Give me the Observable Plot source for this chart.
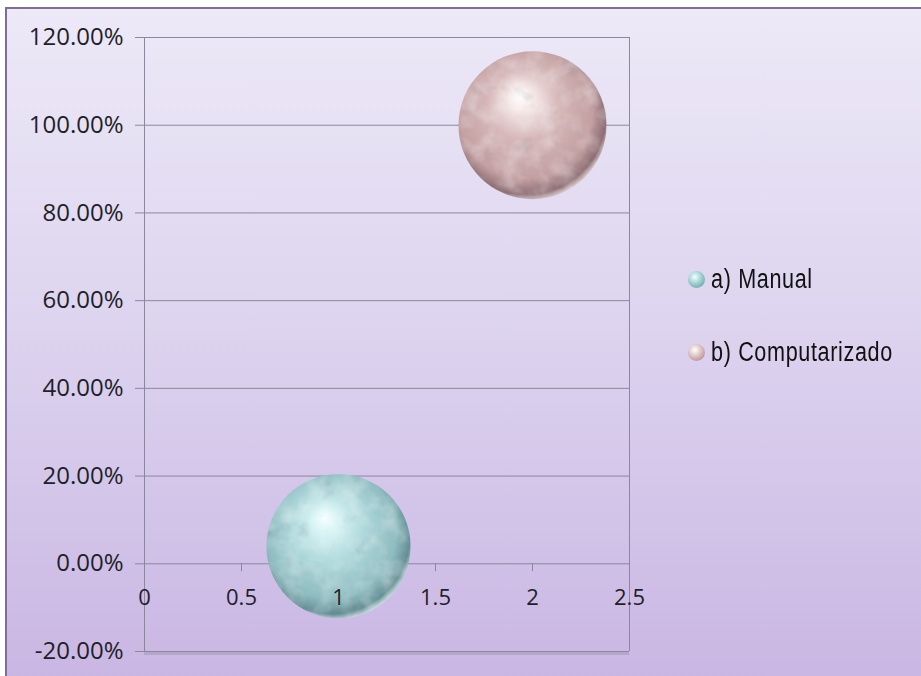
<!DOCTYPE html>
<html>
<head>
<meta charset="utf-8">
<script src="https://cdn.jsdelivr.net/npm/d3@7"></script>
<script src="https://cdn.jsdelivr.net/npm/@observablehq/plot@0.6"></script>
<style>
  html, body { margin: 0; padding: 0; background: #ffffff; }
  #wrap { position: relative; width: 921px; height: 676px; overflow: hidden; background: #ffffff; }
  #bg { position: absolute; left: 5px; top: 7px; width: 940px; height: 700px;
        border: 2px solid #7e6c9c; box-sizing: border-box;
        background: linear-gradient(to bottom, #ede9f7 0%, #ddd4ef 45%, #c8b4e2 100%); }
  #chart { position: absolute; left: 0; top: 0; }
  #legend { position: absolute; left: 688px; top: 0; font-family: "Liberation Sans", Arial, sans-serif;
            font-size: 27px; color: #111111; }
  .item { position: absolute; left: 0; white-space: nowrap; height: 30px; }
  .sw { position: absolute; left: 0; top: 7px; width: 17px; height: 17px; border-radius: 50%; }
  .lab { position: absolute; left: 23px; top: 0; line-height: 30px; display: inline-block;
         transform: scaleX(0.8); transform-origin: 0 50%; letter-spacing: 0.8px; }
</style>
</head>
<body>
<div id="wrap">
  <div id="bg"></div>
  <div id="chart"></div>
  <div id="legend"></div>
</div>
<script>
// ---- data ----
const series = ["a) Manual", "b) Computarizado"];
const xValues = [1, 2];
const yValues = [0.04, 1.00];
const sizes = [37, 39];
const yTicks = [-0.2, 0, 0.2, 0.4, 0.6, 0.8, 1.0, 1.2];
const xTicks = [0, 0.5, 1, 1.5, 2, 2.5];
const gradIds = ["gTeal", "gPink"];

const data = series.map((s, i) => ({series: s, x: xValues[i], y: yValues[i], size: sizes[i], grad: gradIds[i]}));

const gridColor = "#8b879c";
const fmtY = d => (d * 100).toFixed(2) + "%";
const font = "'Open Sans', 'Liberation Sans', sans-serif";

const marks = [
  Plot.ruleY(yTicks, {stroke: gridColor, strokeWidth: 1, insetLeft: -9}),
  Plot.ruleY([-0.2], {stroke: "#000", strokeOpacity: 0.10, strokeWidth: 3, dy: 2}),
  Plot.ruleX([xTicks[0], xTicks[xTicks.length - 1]], {stroke: gridColor, strokeWidth: 1}),
  Plot.ruleX(xTicks.slice(1, -1), {y1: 0, y2: 0, insetBottom: -8, stroke: gridColor}),
];
data.forEach(d => {
  marks.push(Plot.dot([d], {x: "x", y: "y", r: "size", fill: `url(#${d.grad})`, stroke: "none"}));
});
marks.push(
  Plot.text(xTicks, {x: d => d, y: () => 0, dy: 34, text: d => String(d), fontSize: 22, fill: "#1f1f2a"}),
  Plot.axisY({ticks: yTicks, tickFormat: fmtY, tickSize: 0, tickPadding: 21, fontSize: 24, fill: "#1f1f2a", label: null})
);

const chart = Plot.plot({
  width: 921,
  height: 676,
  marginLeft: 144,
  marginRight: 292,
  marginTop: 37,
  marginBottom: 25,
  style: {background: "transparent", fontFamily: font, overflow: "visible"},
  x: {domain: [0, 2.5], axis: null},
  y: {domain: [-0.2, 1.2], axis: null},
  r: {domain: [0, d3.max(sizes)], range: [0, 74]},
  marks
});

// gradients and a light texture for the spheres
const defs = `
<defs>
  <radialGradient id="gTeal" cx="0.46" cy="0.44" r="0.58" fx="0.4" fy="0.3">
    <stop offset="0" stop-color="#f6ffff"/>
    <stop offset="0.15" stop-color="#d8f4f5"/>
    <stop offset="0.45" stop-color="#add7da"/>
    <stop offset="0.78" stop-color="#8fbcc0"/>
    <stop offset="0.93" stop-color="#648f95"/>
    <stop offset="1" stop-color="#d4e6e7"/>
  </radialGradient>
  <radialGradient id="gPink" cx="0.46" cy="0.44" r="0.58" fx="0.42" fy="0.3">
    <stop offset="0" stop-color="#ffffff"/>
    <stop offset="0.14" stop-color="#f6e8e8"/>
    <stop offset="0.42" stop-color="#d6b7b8"/>
    <stop offset="0.78" stop-color="#c3a0a2"/>
    <stop offset="0.93" stop-color="#8c6d73"/>
    <stop offset="1" stop-color="#e8dcdc"/>
  </radialGradient>
  <filter id="marble" x="0" y="0" width="1" height="1" color-interpolation-filters="sRGB">
    <feTurbulence type="fractalNoise" baseFrequency="0.05" numOctaves="3" seed="7" result="noise"/>
    <feColorMatrix in="noise" type="matrix"
      values="0 0 0 0 1  0 0 0 0 1  0 0 0 0 1  0.7 0 0 0 -0.28" result="light"/>
    <feComposite in="light" in2="SourceGraphic" operator="in" result="lightIn"/>
    <feColorMatrix in="noise" type="matrix"
      values="0 0 0 0 0.3  0 0 0 0 0.35  0 0 0 0 0.4  0 -0.5 0 0 0.2" result="dark"/>
    <feComposite in="dark" in2="SourceGraphic" operator="in" result="darkIn"/>
    <feMerge><feMergeNode in="SourceGraphic"/><feMergeNode in="darkIn"/><feMergeNode in="lightIn"/></feMerge>
  </filter>
</defs>`;
chart.insertAdjacentHTML("afterbegin", defs);
d3.select(chart).selectAll('g[aria-label="dot"] circle').attr("filter", "url(#marble)");
document.getElementById("chart").appendChild(chart);

// legend
const legendColors = [
  "radial-gradient(circle at 40% 35%, #f0ffff 0%, #9fd0d0 45%, #5a8f95 100%)",
  "radial-gradient(circle at 40% 35%, #ffffff 0%, #dcbfbf 45%, #9c7a7e 100%)"
];
const legendTops = [264, 337];
const legend = document.getElementById("legend");
series.forEach((s, i) => {
  const div = document.createElement("div");
  div.className = "item";
  div.style.top = legendTops[i] + "px";
  const sw = document.createElement("span");
  sw.className = "sw";
  sw.style.background = legendColors[i];
  const t = document.createElement("span");
  t.className = "lab";
  t.textContent = s;
  div.appendChild(sw);
  div.appendChild(t);
  legend.appendChild(div);
});
</script>
</body>
</html>
